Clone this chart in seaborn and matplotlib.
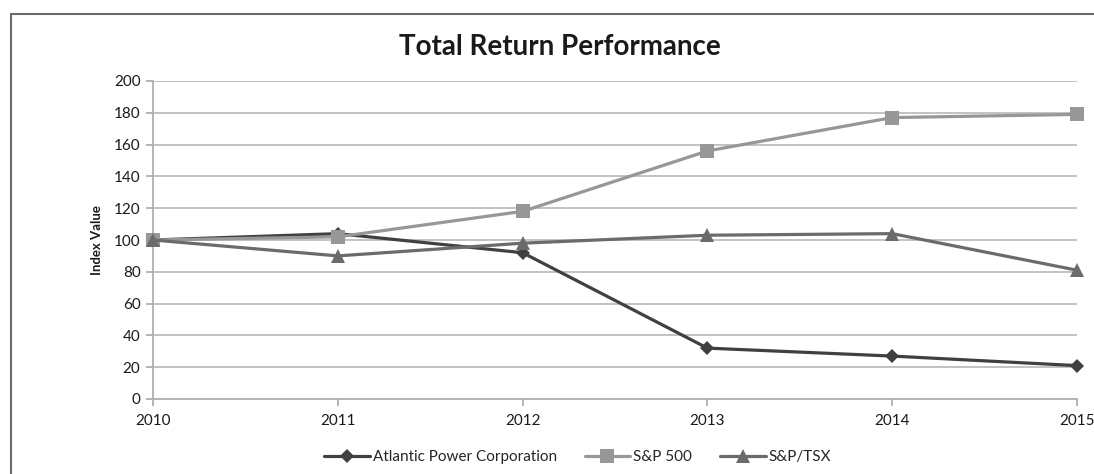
import matplotlib
matplotlib.use("Agg")
import matplotlib.pyplot as plt
import seaborn as sns
import pandas as pd
from matplotlib.patches import Rectangle

years = [2010, 2011, 2012, 2013, 2014, 2015]
atlantic = [100, 104, 92, 32, 27, 21]
sp500 = [100, 102, 118, 156, 177, 179]
tsx = [100, 90, 98, 103, 104, 81]
series_names = ["Atlantic Power Corporation", "S&P 500", "S&P/TSX"]
y_ticks = list(range(0, 201, 20))

df = pd.DataFrame({
    "Year": years * 3,
    "Value": atlantic + sp500 + tsx,
    "Series": [series_names[0]] * 6 + [series_names[1]] * 6 + [series_names[2]] * 6,
})

sns.set_theme(style="white")
plt.rcParams['font.family'] = ['Lato', 'DejaVu Sans']

fig = plt.figure(figsize=(10.94, 4.74), dpi=100)
ax = fig.add_axes([153/1094, 1-399/474, (1077-153)/1094, (399-81)/474])

palette = {series_names[0]: "#404040", series_names[1]: "#979797", series_names[2]: "#6b6b6b"}
markers = {series_names[0]: "D", series_names[1]: "s", series_names[2]: "^"}
sizes_m = {series_names[0]: 7, series_names[1]: 10.5, series_names[2]: 10}

for name in series_names:
    sub = df[df["Series"] == name]
    sns.lineplot(data=sub, x="Year", y="Value", ax=ax, color=palette[name],
                 marker=markers[name], markersize=sizes_m[name], linewidth=2.3,
                 markeredgewidth=0, label=name, zorder=3, clip_on=False)

ax.set_xlim(2010, 2015)
ax.set_ylim(0, 200)
ax.set_yticks(y_ticks)
ax.set_xticks(years)
ax.set_xticklabels([str(y) for y in years])
ax.yaxis.grid(True, color="#bdbdbd", linewidth=1.3)
ax.xaxis.grid(False)
for s in ["top", "right"]:
    ax.spines[s].set_visible(False)
for s in ["left", "bottom"]:
    ax.spines[s].set_color("#b0b0b0")
    ax.spines[s].set_linewidth(1.3)
ax.tick_params(axis="both", which="major", length=5, width=1.3, color="#b0b0b0",
               labelsize=11, labelcolor="#1a1a1a", direction="out",
               left=True, bottom=True)
ax.tick_params(axis="y", pad=4)
ax.tick_params(axis="x", pad=6)
ax.set_xlabel("")
ax.set_ylabel("Index Value", fontsize=9.5, fontweight="bold", color="#1a1a1a", labelpad=8)

fig.text(0.512, 1 - 47/474, "Total Return Performance", ha="center", va="center",
         fontsize=20, fontweight="bold", color="#1a1a1a")

fig.patches.append(Rectangle((11/1094, -0.1), 1.2, 1 - 14/474 + 0.1,
                             transform=fig.transFigure, fill=False,
                             edgecolor="#6a6a6a", linewidth=1.5, zorder=0))

ax.get_legend().remove()
handles, labels = ax.get_legend_handles_labels()
fig.legend(handles, labels, loc="center", bbox_to_anchor=(0.528, 1 - 457/474),
           ncol=3, frameon=False, fontsize=11, handlelength=3.0, columnspacing=1.8,
           handletextpad=0.2)

fig.savefig("out.png", dpi=100)
